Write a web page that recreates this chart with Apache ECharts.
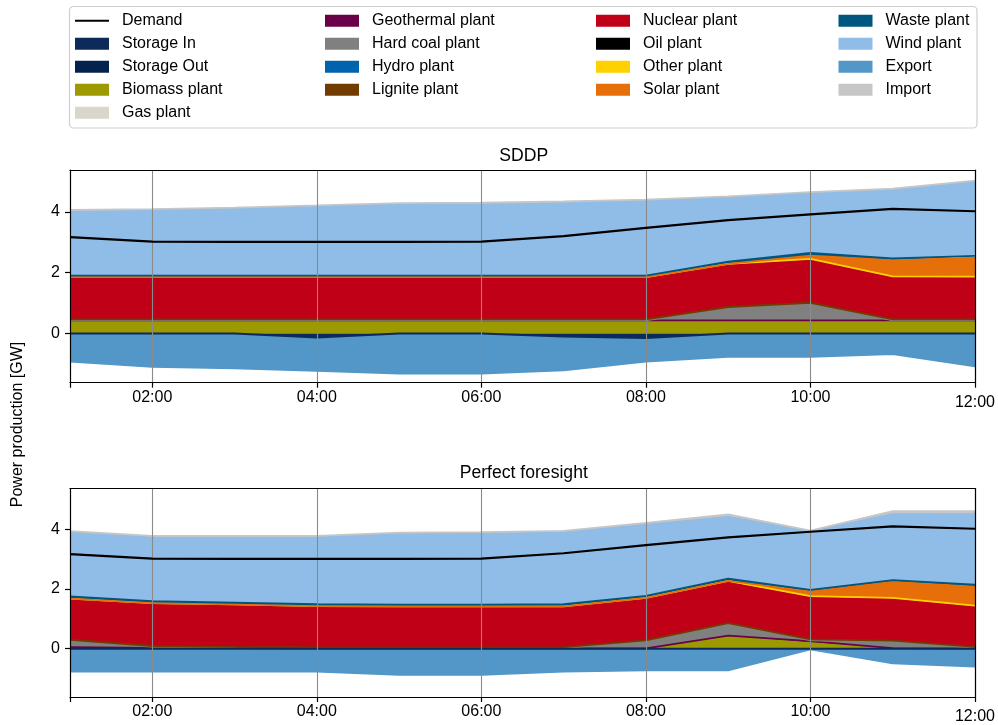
<!DOCTYPE html>
<html>
<head>
<meta charset="utf-8">
<script src="https://cdn.jsdelivr.net/npm/echarts@6/dist/echarts.min.js"></script>
<style>
html,body{margin:0;padding:0;background:#fff;}
#chart{width:998px;height:725px;}
</style>
</head>
<body>
<div id="chart"></div>
<script>
// ---------- DATA ----------
const hours = ['01:00','02:00','03:00','04:00','05:00','06:00','07:00','08:00','09:00','10:00','11:00','12:00'];
const yTicks = [0, 2, 4];
const demand = [3.17, 3.02, 3.01, 3.01, 3.01, 3.02, 3.20, 3.47, 3.73, 3.92, 4.10, 4.02];

// SDDP
const sddpStorageIn  = [0, 0, 0, -0.13, 0, 0, -0.10, -0.15, 0, 0, 0, 0];
const sddpStorageOut = [0, 0, 0, 0, 0, 0, 0, 0, 0, 0, 0, 0];
const sddpBiomass    = [0.42, 0.42, 0.42, 0.42, 0.42, 0.42, 0.42, 0.42, 0.42, 0.42, 0.42, 0.42];
const sddpGas        = [0, 0, 0, 0, 0, 0, 0, 0, 0, 0, 0, 0];
const sddpGeothermal = [0.01, 0.01, 0.01, 0.01, 0.01, 0.01, 0.01, 0.01, 0.01, 0.01, 0.01, 0.01];
const sddpHardCoal   = [0, 0, 0, 0, 0, 0, 0, 0, 0.41, 0.55, 0, 0];
const sddpHydro      = [0, 0, 0, 0, 0, 0, 0, 0, 0, 0, 0, 0];
const sddpLignite    = [0.03, 0.03, 0.03, 0.03, 0.03, 0.03, 0.03, 0.03, 0.03, 0.03, 0.03, 0.03];
const sddpNuclear    = [1.38, 1.38, 1.38, 1.38, 1.38, 1.38, 1.38, 1.38, 1.38, 1.40, 1.38, 1.37];
const sddpOil        = [0, 0, 0, 0, 0, 0, 0, 0, 0, 0, 0, 0];
const sddpOther      = [0.01, 0.01, 0.01, 0.01, 0.01, 0.01, 0.01, 0.01, 0.04, 0.04, 0.04, 0.04];
const sddpSolar      = [0, 0, 0, 0, 0, 0, 0, 0, 0, 0.11, 0.53, 0.62];
const sddpWaste      = [0.05, 0.05, 0.05, 0.05, 0.05, 0.05, 0.05, 0.05, 0.07, 0.09, 0.06, 0.06];
const sddpWind       = [2.13, 2.16, 2.21, 2.28, 2.36, 2.37, 2.41, 2.47, 2.12, 1.97, 2.26, 2.45];
const sddpExport     = [-0.93, -1.10, -1.15, -1.10, -1.32, -1.32, -1.11, -0.78, -0.77, -0.77, -0.68, -1.08];
const sddpImport     = [0.03, 0.03, 0.03, 0.03, 0.03, 0.03, 0.03, 0.03, 0.03, 0.03, 0.03, 0.03];

// Perfect foresight
const pfStorageIn  = [0, 0, 0, 0, 0, 0, 0, 0, 0, 0, 0, 0];
const pfStorageOut = [0, 0, 0, 0, 0, 0, 0, 0, 0, 0, 0, 0];
const pfBiomass    = [0, 0, 0, 0, 0, 0, 0, 0, 0.41, 0.19, 0, 0];
const pfGas        = [0, 0, 0, 0, 0, 0, 0, 0, 0, 0, 0, 0];
const pfGeothermal = [0.05, 0.03, 0.02, 0.01, 0.01, 0.01, 0.01, 0.01, 0.03, 0.06, 0.02, 0.01];
const pfHardCoal   = [0.22, 0.03, 0.01, 0, 0, 0, 0.01, 0.24, 0.39, 0.03, 0.22, 0.02];
const pfHydro      = [0, 0, 0, 0, 0, 0, 0, 0, 0, 0, 0, 0];
const pfLignite    = [0.03, 0.03, 0.03, 0.03, 0.03, 0.03, 0.03, 0.03, 0.03, 0.03, 0.03, 0.03];
const pfNuclear    = [1.37, 1.43, 1.42, 1.38, 1.37, 1.37, 1.34, 1.38, 1.36, 1.41, 1.39, 1.34];
const pfOil        = [0, 0, 0, 0, 0, 0, 0, 0, 0, 0, 0, 0];
const pfOther      = [0.01, 0.01, 0.01, 0.01, 0.01, 0.01, 0.03, 0.04, 0.05, 0.04, 0.04, 0.04];
const pfSolar      = [0, 0, 0, 0, 0, 0, 0, 0, 0, 0.16, 0.55, 0.64];
const pfWaste      = [0.07, 0.06, 0.05, 0.06, 0.06, 0.06, 0.07, 0.07, 0.08, 0.05, 0.05, 0.07];
const pfWind       = [2.14, 2.14, 2.19, 2.24, 2.36, 2.38, 2.41, 2.39, 2.07, 1.96, 2.21, 2.36];
const pfExport     = [-0.77, -0.77, -0.77, -0.77, -0.88, -0.88, -0.77, -0.73, -0.73, -0.02, -0.49, -0.60];
const pfImport     = [0.05, 0.05, 0.05, 0.05, 0.05, 0.05, 0.05, 0.06, 0.08, 0.03, 0.10, 0.10];

// ---------- STYLE ----------
const FONT = "'Liberation Sans', Arial, Helvetica, sans-serif";
const colors = {
  'Demand': '#000000',
  'Storage In': '#0c2b5b', 'Storage Out': '#03224e', 'Biomass plant': '#9d9900', 'Gas plant': '#d9d7cb',
  'Geothermal plant': '#6a0047', 'Hard coal plant': '#808080', 'Hydro plant': '#0063ad', 'Lignite plant': '#723c00',
  'Nuclear plant': '#bf0017', 'Oil plant': '#000000', 'Other plant': '#ffd100', 'Solar plant': '#e66f0a',
  'Waste plant': '#00567f', 'Wind plant': '#8fbde7', 'Export': '#5297c8', 'Import': '#c6c6c6'
};

const sddpLayers = [
  ['Storage In', sddpStorageIn], ['Storage Out', sddpStorageOut], ['Biomass plant', sddpBiomass],
  ['Gas plant', sddpGas], ['Geothermal plant', sddpGeothermal], ['Hard coal plant', sddpHardCoal],
  ['Hydro plant', sddpHydro], ['Lignite plant', sddpLignite], ['Nuclear plant', sddpNuclear],
  ['Oil plant', sddpOil], ['Other plant', sddpOther], ['Solar plant', sddpSolar],
  ['Waste plant', sddpWaste], ['Wind plant', sddpWind], ['Export', sddpExport], ['Import', sddpImport]
];
const pfLayers = [
  ['Storage In', pfStorageIn], ['Storage Out', pfStorageOut], ['Biomass plant', pfBiomass],
  ['Gas plant', pfGas], ['Geothermal plant', pfGeothermal], ['Hard coal plant', pfHardCoal],
  ['Hydro plant', pfHydro], ['Lignite plant', pfLignite], ['Nuclear plant', pfNuclear],
  ['Oil plant', pfOil], ['Other plant', pfOther], ['Solar plant', pfSolar],
  ['Waste plant', pfWaste], ['Wind plant', pfWind], ['Export', pfExport], ['Import', pfImport]
];

function areaSeries(layers, gi, stackName) {
  return layers.map(([name, vals]) => {
    const allZero = vals.every(v => v === 0);
    const c = colors[name];
    let w = 1.8;
    if (name === 'Storage In') w = 2;
    else if (allZero) w = 0;
    return {
      name: name, type: 'line', stack: stackName, data: vals,
      xAxisIndex: gi * 2, yAxisIndex: gi * 2,
      symbol: 'none', silent: true, color: c,
      z: name === 'Storage In' ? 3 : 2,
      lineStyle: { color: c, width: w },
      areaStyle: { color: c, opacity: 1 },
      itemStyle: { color: c }
    };
  });
}
function demandSeries(gi) {
  return {
    name: 'Demand', type: 'line', data: demand, xAxisIndex: gi * 2, yAxisIndex: gi * 2,
    symbol: 'none', silent: true, z: 11, color: '#000',
    lineStyle: { color: '#000', width: 2.2 }, itemStyle: { color: '#000' }
  };
}

const evenIdx = (i) => i % 2 === 1;
function xAxes(gi) {
  return [{
    type: 'category', gridIndex: gi, data: hours, boundaryGap: false, position: 'bottom', z: 10,
    axisLine: { show: true, onZero: false, lineStyle: { color: '#000', width: 1.2 } },
    axisTick: { show: true, length: 5, interval: (i) => i === 0 || i % 2 === 1, lineStyle: { color: '#000', width: 1.2 } },
    axisLabel: {
      interval: evenIdx, color: '#000', fontSize: 16, fontFamily: FONT, margin: 7,
      formatter: (v) => v === '12:00' ? '{d|' + v + '}' : v,
      rich: { d: { padding: [5, 0, 0, 0], fontSize: 16, fontFamily: FONT, color: '#000' } }
    },
    splitLine: { show: true, interval: evenIdx, lineStyle: { color: '#8a8a8a', width: 1.1 } }
  }, {
    type: 'category', gridIndex: gi, data: hours, boundaryGap: false, position: 'top', z: 10,
    axisLine: { show: true, onZero: false, lineStyle: { color: '#000', width: 1.2 } },
    axisTick: { show: false }, axisLabel: { show: false }, splitLine: { show: false }
  }];
}
function yAxes(gi) {
  return [{
    type: 'value', gridIndex: gi, min: -1.62, max: 5.37, position: 'left', z: 10,
    axisLine: { show: true, onZero: false, lineStyle: { color: '#000', width: 1.2 } },
    axisTick: { show: true, length: 5, customValues: yTicks, lineStyle: { color: '#000', width: 1.2 } },
    axisLabel: { customValues: yTicks, color: '#000', fontSize: 16, fontFamily: FONT, margin: 10 },
    splitLine: { show: false }
  }, {
    type: 'value', gridIndex: gi, min: -1.62, max: 5.37, position: 'right', z: 10,
    axisLine: { show: true, onZero: false, lineStyle: { color: '#000', width: 1.2 } },
    axisTick: { show: false }, axisLabel: { show: false }, splitLine: { show: false }
  }];
}

const legendCommon = {
  orient: 'vertical', top: 12.7, padding: 0, itemWidth: 34, itemHeight: 12, itemGap: 7,
  icon: 'rect', selectedMode: false, z: 5,
  itemStyle: { borderWidth: 0 },
  textStyle: { fontSize: 16, fontFamily: FONT, color: '#000', padding: [0, 0, 0, 8] }
};
const legendCols = [
  { left: 75, data: [{ name: 'Demand', icon: 'path://M0,0H34V2H0Z' }, 'Storage In', 'Storage Out', 'Biomass plant', 'Gas plant'] },
  { left: 325, data: ['Geothermal plant', 'Hard coal plant', 'Hydro plant', 'Lignite plant'] },
  { left: 596, data: ['Nuclear plant', 'Oil plant', 'Other plant', 'Solar plant'] },
  { left: 838.5, data: ['Waste plant', 'Wind plant', 'Export', 'Import'] }
];

const option = {
  animation: false,
  backgroundColor: '#fff',
  grid: [
    { left: 70, top: 170.2, width: 907.5, height: 212.5, containLabel: false },
    { left: 70, top: 488.5, width: 907.5, height: 212.5, containLabel: false }
  ],
  xAxis: [...xAxes(0), ...xAxes(1)],
  yAxis: [...yAxes(0), ...yAxes(1)],
  legend: legendCols.map(c => Object.assign({}, legendCommon, c)),
  graphic: [
    { type: 'rect', z: 0, shape: { x: 69.5, y: 6.5, width: 907.5, height: 121.5, r: 4 },
      style: { fill: '#fff', stroke: '#cfcfcf', lineWidth: 1.2 } },
    { type: 'text', z: 5, x: 523.75, y: 156.5,
      style: { text: 'SDDP', font: "17.6px 'Liberation Sans', Arial, sans-serif", fill: '#000', align: 'center', verticalAlign: 'middle' } },
    { type: 'text', z: 5, x: 523.75, y: 473.5,
      style: { text: 'Perfect foresight', font: "17.6px 'Liberation Sans', Arial, sans-serif", fill: '#000', align: 'center', verticalAlign: 'middle' } },
    { type: 'text', z: 5, x: 18, y: 424.5, rotation: Math.PI / 2,
      style: { text: 'Power production [GW]', font: "16px 'Liberation Sans', Arial, sans-serif", fill: '#000', align: 'center', verticalAlign: 'middle' } }
  ],
  series: [
    ...areaSeries(sddpLayers, 0, 'sddp'), demandSeries(0),
    ...areaSeries(pfLayers, 1, 'pf'), demandSeries(1)
  ]
};

const chart = echarts.init(document.getElementById('chart'), null, { renderer: 'canvas' });
chart.setOption(option);
</script>
</body>
</html>
